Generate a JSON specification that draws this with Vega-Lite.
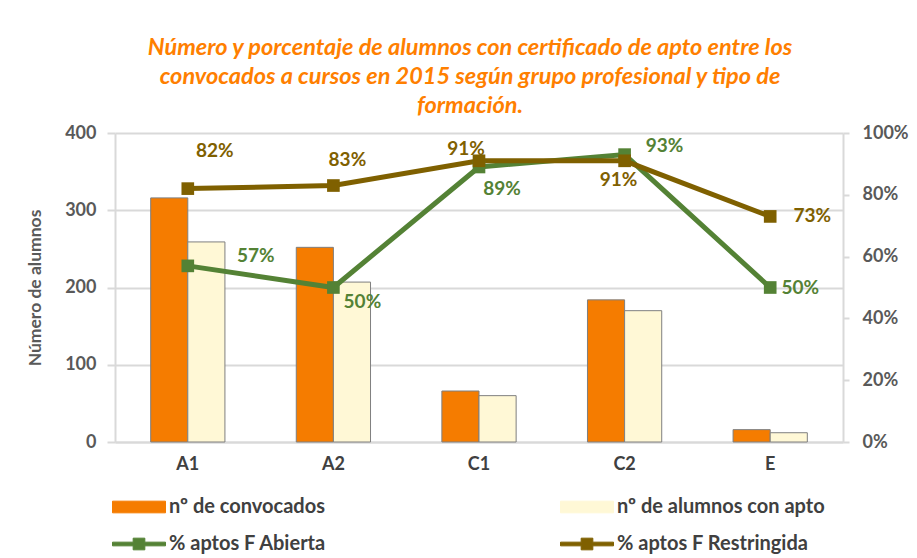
{
  "$schema": "https://vega.github.io/schema/vega-lite/v6.json",
  "width": 728,
  "height": 309,
  "autosize": {"type": "none"},
  "padding": {"left": 115, "top": 133, "right": 74, "bottom": 116},
  "background": "white",
  "title": {
    "text": ["Número y porcentaje de alumnos con certificado de apto entre los", "convocados a cursos en 2015 según grupo profesional y tipo de", "formación."],
    "font": "Lato", "fontSize": 23.5, "fontStyle": "italic", "fontWeight": "bold",
    "color": "#FF7F00", "lineHeight": 29, "anchor": "middle", "offset": 7, "dx": -9
  },
  "config": {
    "view": {"stroke": null},
    "font": "Lato",
    "axis": {"labelFont": "Lato", "titleFont": "Lato", "labelFontWeight": "bold", "labelFontSize": 18, "labelColor": "#595959", "titleColor": "#595959", "domainColor": "#D9D9D9", "domainWidth": 2, "tickColor": "#D9D9D9", "tickWidth": 2, "gridColor": "#D9D9D9", "gridWidth": 2}
  },
  "data": {"values": [
    {"grupo": "A1", "serie": "nº de convocados", "valor": 316},
    {"grupo": "A2", "serie": "nº de convocados", "valor": 252},
    {"grupo": "C1", "serie": "nº de convocados", "valor": 66},
    {"grupo": "C2", "serie": "nº de convocados", "valor": 184},
    {"grupo": "E", "serie": "nº de convocados", "valor": 16},
    {"grupo": "A1", "serie": "nº de alumnos con apto", "valor": 259},
    {"grupo": "A2", "serie": "nº de alumnos con apto", "valor": 207},
    {"grupo": "C1", "serie": "nº de alumnos con apto", "valor": 60},
    {"grupo": "C2", "serie": "nº de alumnos con apto", "valor": 170},
    {"grupo": "E", "serie": "nº de alumnos con apto", "valor": 12},
    {"grupo": "A1", "serie": "% aptos F Abierta", "valor": 0.57},
    {"grupo": "A2", "serie": "% aptos F Abierta", "valor": 0.50},
    {"grupo": "C1", "serie": "% aptos F Abierta", "valor": 0.89},
    {"grupo": "C2", "serie": "% aptos F Abierta", "valor": 0.93},
    {"grupo": "E", "serie": "% aptos F Abierta", "valor": 0.50},
    {"grupo": "A1", "serie": "% aptos F Restringida", "valor": 0.82},
    {"grupo": "A2", "serie": "% aptos F Restringida", "valor": 0.83},
    {"grupo": "C1", "serie": "% aptos F Restringida", "valor": 0.91},
    {"grupo": "C2", "serie": "% aptos F Restringida", "valor": 0.91},
    {"grupo": "E", "serie": "% aptos F Restringida", "valor": 0.73}
  ]},
  "encoding": {
    "x": {"field": "grupo", "type": "nominal", "sort": ["A1", "A2", "C1", "C2", "E"],
      "scale": {"paddingInner": 0.49, "paddingOuter": 0.245},
      "axis": {"title": null, "labelAngle": 0, "ticks": false, "labelPadding": 13, "labelColor": "#404040"}},
    "color": {"field": "serie", "type": "nominal",
      "scale": {"domain": ["nº de convocados", "nº de alumnos con apto", "% aptos F Abierta", "% aptos F Restringida"],
                "range": ["#F57C00", "#FFF8D6", "#548235", "#7F6000"]},
      "legend": {
        "title": null, "orient": "none", "direction": "horizontal", "legendX": -3, "legendY": 347, "columns": 2, "columnPadding": 231, "rowPadding": -9,
        "padding": 0, "symbolSize": 2809, "symbolType": "square", "labelFont": "Lato", "labelFontSize": 20, "labelFontWeight": "bold", "labelColor": "#404040", "labelOffset": 3, "labelLimit": 400,
        "encode": {"symbols": {"update": {
          "shape": [{"test": "indexof(datum.value, '%') === 0", "value": "M-1,-0.07H-0.22V-0.22H0.22V-0.07H1V0.07H0.22V0.22H-0.22V0.07H-1Z"}, {"value": "M-1,-0.22H1V0.22H-1Z"}],
          "fill": {"scale": "color", "field": "value"},
          "stroke": [{"test": "indexof(datum.value, '%') === 0", "scale": "color", "field": "value"}, {"value": "#6E6E6E"}],
          "strokeWidth": {"value": 1},
          "opacity": {"value": 1}
        }}}
      }}
  },
  "layer": [
    {
      "transform": [{"filter": "indexof(datum.serie, 'nº') === 0"}],
      "mark": {"type": "bar", "stroke": "#7F7F7F", "strokeWidth": 1},
      "encoding": {
        "xOffset": {"field": "serie", "type": "nominal", "sort": ["nº de convocados", "nº de alumnos con apto"]},
        "y": {"field": "valor", "type": "quantitative", "scale": {"domain": [0, 400]},
          "axis": {"title": "Número de alumnos", "titleFontSize": 17.5, "titleFontWeight": "bold", "values": [0, 100, 200, 300, 400], "grid": true, "tickSize": 8, "labelPadding": 11, "titlePadding": 20}}
      }
    },
    {
      "transform": [{"filter": "indexof(datum.serie, '%') === 0"}],
      "encoding": {
        "y": {"field": "valor", "type": "quantitative", "scale": {"domain": [0, 1]},
          "axis": {"orient": "right", "format": ".0%", "values": [0, 0.2, 0.4, 0.6, 0.8, 1], "grid": false, "tickSize": 6, "labelPadding": 13, "title": null}}
      },
      "layer": [
        {"mark": {"type": "line", "strokeWidth": 5}},
        {"mark": {"type": "point", "shape": "square", "filled": true, "size": 160, "opacity": 1}},
        {"transform": [{"filter": "datum.serie === '% aptos F Restringida' && datum.grupo === 'A1'"}], "mark": {"type": "text", "dx": 27, "dy": -38, "fontSize": 19, "fontWeight": "bold"}, "encoding": {"text": {"field": "valor", "format": ".0%"}, "color": {"value": "#7F6000"}}},
        {"transform": [{"filter": "datum.serie === '% aptos F Restringida' && datum.grupo === 'A2'"}], "mark": {"type": "text", "dx": 14, "dy": -26, "fontSize": 19, "fontWeight": "bold"}, "encoding": {"text": {"field": "valor", "format": ".0%"}, "color": {"value": "#7F6000"}}},
        {"transform": [{"filter": "datum.serie === '% aptos F Restringida' && datum.grupo === 'C1'"}], "mark": {"type": "text", "dx": -13, "dy": -12, "fontSize": 19, "fontWeight": "bold"}, "encoding": {"text": {"field": "valor", "format": ".0%"}, "color": {"value": "#7F6000"}}},
        {"transform": [{"filter": "datum.serie === '% aptos F Restringida' && datum.grupo === 'C2'"}], "mark": {"type": "text", "dx": -6, "dy": 19, "fontSize": 19, "fontWeight": "bold"}, "encoding": {"text": {"field": "valor", "format": ".0%"}, "color": {"value": "#7F6000"}}},
        {"transform": [{"filter": "datum.serie === '% aptos F Restringida' && datum.grupo === 'E'"}], "mark": {"type": "text", "dx": 42, "dy": 0, "fontSize": 19, "fontWeight": "bold"}, "encoding": {"text": {"field": "valor", "format": ".0%"}, "color": {"value": "#7F6000"}}},
        {"transform": [{"filter": "datum.serie === '% aptos F Abierta' && datum.grupo === 'A1'"}], "mark": {"type": "text", "dx": 68, "dy": -10, "fontSize": 19, "fontWeight": "bold"}, "encoding": {"text": {"field": "valor", "format": ".0%"}, "color": {"value": "#548235"}}},
        {"transform": [{"filter": "datum.serie === '% aptos F Abierta' && datum.grupo === 'A2'"}], "mark": {"type": "text", "dx": 29, "dy": 14, "fontSize": 19, "fontWeight": "bold"}, "encoding": {"text": {"field": "valor", "format": ".0%"}, "color": {"value": "#548235"}}},
        {"transform": [{"filter": "datum.serie === '% aptos F Abierta' && datum.grupo === 'C1'"}], "mark": {"type": "text", "dx": 23, "dy": 22, "fontSize": 19, "fontWeight": "bold"}, "encoding": {"text": {"field": "valor", "format": ".0%"}, "color": {"value": "#548235"}}},
        {"transform": [{"filter": "datum.serie === '% aptos F Abierta' && datum.grupo === 'C2'"}], "mark": {"type": "text", "dx": 40, "dy": -9, "fontSize": 19, "fontWeight": "bold"}, "encoding": {"text": {"field": "valor", "format": ".0%"}, "color": {"value": "#548235"}}},
        {"transform": [{"filter": "datum.serie === '% aptos F Abierta' && datum.grupo === 'E'"}], "mark": {"type": "text", "dx": 30, "dy": 0, "fontSize": 19, "fontWeight": "bold"}, "encoding": {"text": {"field": "valor", "format": ".0%"}, "color": {"value": "#548235"}}}
      ]
    }
  ],
  "resolve": {"scale": {"y": "independent"}}
}
